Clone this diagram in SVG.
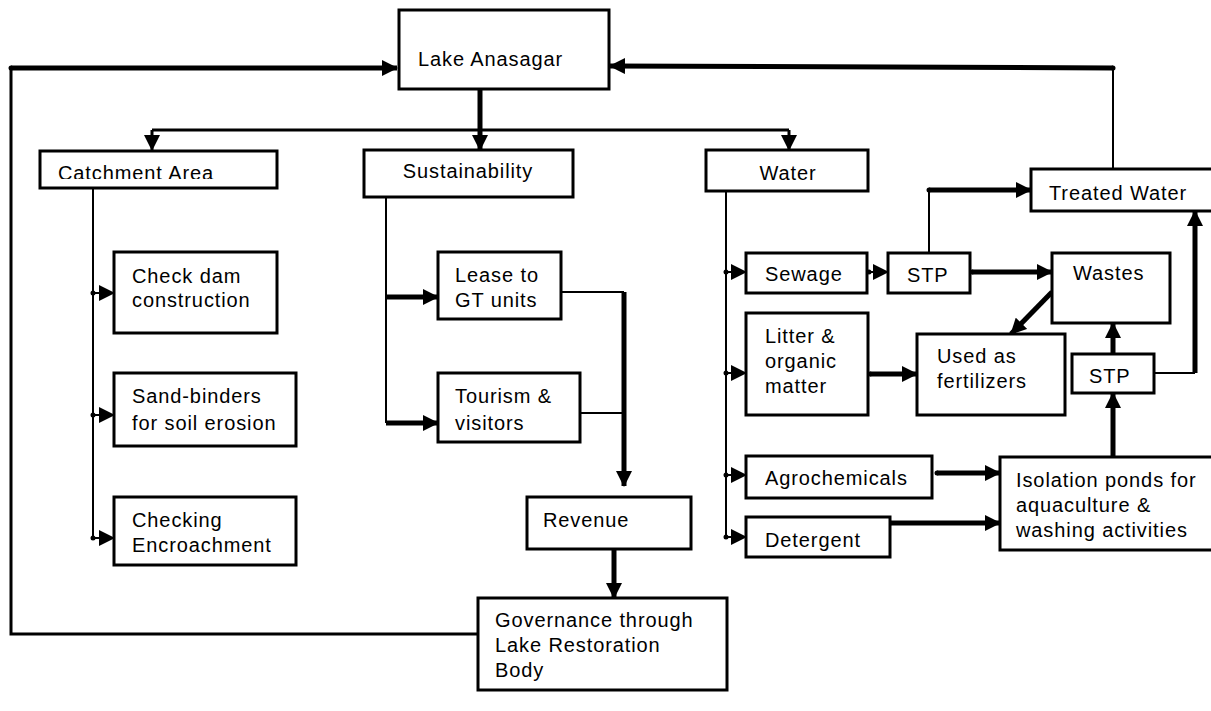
<svg xmlns="http://www.w3.org/2000/svg" width="1211" height="711" viewBox="0 0 1211 711">
<style>
.box{fill:#fff;stroke:#000;stroke-width:3}
text{font-family:"Liberation Sans",Arial,sans-serif;font-size:20px;letter-spacing:0.9px;fill:#000}
.thin{fill:none;stroke:#000;stroke-width:2}
.mid{fill:none;stroke:#000;stroke-width:3}
.thick{fill:none;stroke:#000;stroke-width:5}
</style>
<defs>
<marker id="ah" markerUnits="userSpaceOnUse" markerWidth="16" markerHeight="16" refX="15" refY="8" orient="auto">
<path d="M0,0 L16,8 L0,16 z" fill="#000"/>
</marker>
<marker id="dot" markerUnits="userSpaceOnUse" markerWidth="6" markerHeight="6" refX="3" refY="3">
<circle cx="3" cy="3" r="2.5" fill="#000"/>
</marker>
<clipPath id="clipCatch"><rect x="38" y="150" width="238" height="29"/></clipPath>
</defs>
<rect width="1211" height="711" fill="#fff"/>

<g id="connectors">
<path class="mid" d="M11,68 V634 H478"/>
<path class="thick" d="M11,68 H397" marker-start="url(#dot)" marker-end="url(#ah)"/>
<path class="thin" d="M1113,68 V169"/>
<path class="thick" d="M1113,68 L610,66" marker-start="url(#dot)" marker-end="url(#ah)"/>
<path class="thick" d="M480,89 V150" marker-end="url(#ah)"/>
<path class="mid" d="M152,130 H789"/>
<path class="mid" d="M152,130 V150" marker-end="url(#ah)"/>
<path class="mid" d="M789,130 V150" marker-end="url(#ah)"/>
<path class="thin" d="M93,188 V538"/>
<path class="thin" d="M93,293 H114" marker-start="url(#dot)" marker-end="url(#ah)"/>
<path class="thin" d="M93,415 H114" marker-start="url(#dot)" marker-end="url(#ah)"/>
<path class="thin" d="M93,538 H114" marker-start="url(#dot)" marker-end="url(#ah)"/>
<path class="thin" d="M386,197 V423"/>
<path class="thick" d="M386,297 H438" marker-end="url(#ah)"/>
<path class="thick" d="M386,423 H438" marker-end="url(#ah)"/>
<path class="thin" d="M561,292 H624"/>
<path class="thin" d="M580,413 H624"/>
<path class="thick" d="M624,292 V486" marker-end="url(#ah)"/>
<path class="thick" d="M614,549 V598" marker-end="url(#ah)"/>
<path class="thin" d="M726,191 V537"/>
<path class="thin" d="M726,272 H746" marker-start="url(#dot)" marker-end="url(#ah)"/>
<path class="thin" d="M726,373 H746" marker-start="url(#dot)" marker-end="url(#ah)"/>
<path class="thin" d="M726,475 H746" marker-start="url(#dot)" marker-end="url(#ah)"/>
<path class="thin" d="M726,537 H746" marker-start="url(#dot)" marker-end="url(#ah)"/>
<path class="thin" d="M869,272 H888" marker-start="url(#dot)" marker-end="url(#ah)"/>
<path class="thin" d="M929,253 V190"/>
<path class="thick" d="M929,190 H1031" marker-start="url(#dot)" marker-end="url(#ah)"/>
<path class="thick" d="M972,272 H1052" marker-start="url(#dot)" marker-end="url(#ah)"/>
<path class="thick" d="M1052,292 L1011,334" marker-end="url(#ah)"/>
<path class="thick" d="M870,374 H917" marker-start="url(#dot)" marker-end="url(#ah)"/>
<path class="thick" d="M1113,354 V323" marker-end="url(#ah)"/>
<path class="thick" d="M1113,457 V393" marker-end="url(#ah)"/>
<path class="thin" d="M1154,373 H1195"/>
<path class="thick" d="M1195,373 V211" marker-end="url(#ah)"/>
<path class="thick" d="M937,473 H1000" marker-start="url(#dot)" marker-end="url(#ah)"/>
<path class="thick" d="M890,523 H1000" marker-start="url(#dot)" marker-end="url(#ah)"/>
</g>

<g id="lake"><rect class="box" x="399" y="10" width="210" height="79"/><text x="418" y="66">Lake Anasagar</text></g>
<g id="catchment"><rect class="box" x="40" y="151" width="237" height="37"/><text x="58" y="180" clip-path="url(#clipCatch)">Catchment Area</text></g>
<g id="sustainability"><rect class="box" x="364" y="150" width="209" height="47"/><text x="468" y="178" text-anchor="middle">Sustainability</text></g>
<g id="water"><rect class="box" x="706" y="150" width="162" height="41"/><text x="788" y="180" text-anchor="middle">Water</text></g>
<g id="treated"><rect class="box" x="1031" y="169" width="183" height="42"/><text x="1049" y="200">Treated Water</text></g>
<g id="checkdam"><rect class="box" x="114" y="252" width="163" height="81"/><text x="132" y="283">Check dam</text><text x="132" y="307">construction</text></g>
<g id="sandbinders"><rect class="box" x="114" y="373" width="182" height="73"/><text x="132" y="403">Sand-binders</text><text x="132" y="430">for soil erosion</text></g>
<g id="checking"><rect class="box" x="114" y="497" width="182" height="68"/><text x="132" y="527">Checking</text><text x="132" y="552">Encroachment</text></g>
<g id="lease"><rect class="box" x="438" y="252" width="123" height="67"/><text x="455" y="282">Lease to</text><text x="455" y="307">GT units</text></g>
<g id="tourism"><rect class="box" x="438" y="373" width="142" height="69"/><text x="455" y="403">Tourism &amp;</text><text x="455" y="430">visitors</text></g>
<g id="revenue"><rect class="box" x="527" y="497" width="164" height="52"/><text x="543" y="527">Revenue</text></g>
<g id="governance"><rect class="box" x="478" y="598" width="249" height="92"/><text x="495" y="627">Governance through</text><text x="495" y="652">Lake Restoration</text><text x="495" y="677">Body</text></g>
<g id="sewage"><rect class="box" x="746" y="253" width="121" height="40"/><text x="765" y="281">Sewage</text></g>
<g id="stp1"><rect class="box" x="888" y="253" width="82" height="40"/><text x="907" y="282">STP</text></g>
<g id="wastes"><rect class="box" x="1052" y="253" width="118" height="70"/><text x="1073" y="280">Wastes</text></g>
<g id="litter"><rect class="box" x="746" y="313" width="122" height="102"/><text x="765" y="343">Litter &amp;</text><text x="765" y="368">organic</text><text x="765" y="393">matter</text></g>
<g id="fertilizers"><rect class="box" x="917" y="334" width="148" height="81"/><text x="937" y="363">Used as</text><text x="937" y="388">fertilizers</text></g>
<g id="stp2"><rect class="box" x="1072" y="354" width="82" height="39"/><text x="1089" y="383">STP</text></g>
<g id="agro"><rect class="box" x="746" y="456" width="186" height="42"/><text x="765" y="485">Agrochemicals</text></g>
<g id="detergent"><rect class="box" x="746" y="517" width="144" height="40"/><text x="765" y="547">Detergent</text></g>
<g id="isolation"><rect class="box" x="1000" y="457" width="214" height="93"/><text x="1016" y="487">Isolation ponds for</text><text x="1016" y="512">aquaculture &amp;</text><text x="1016" y="537">washing activities</text></g>
</svg>
